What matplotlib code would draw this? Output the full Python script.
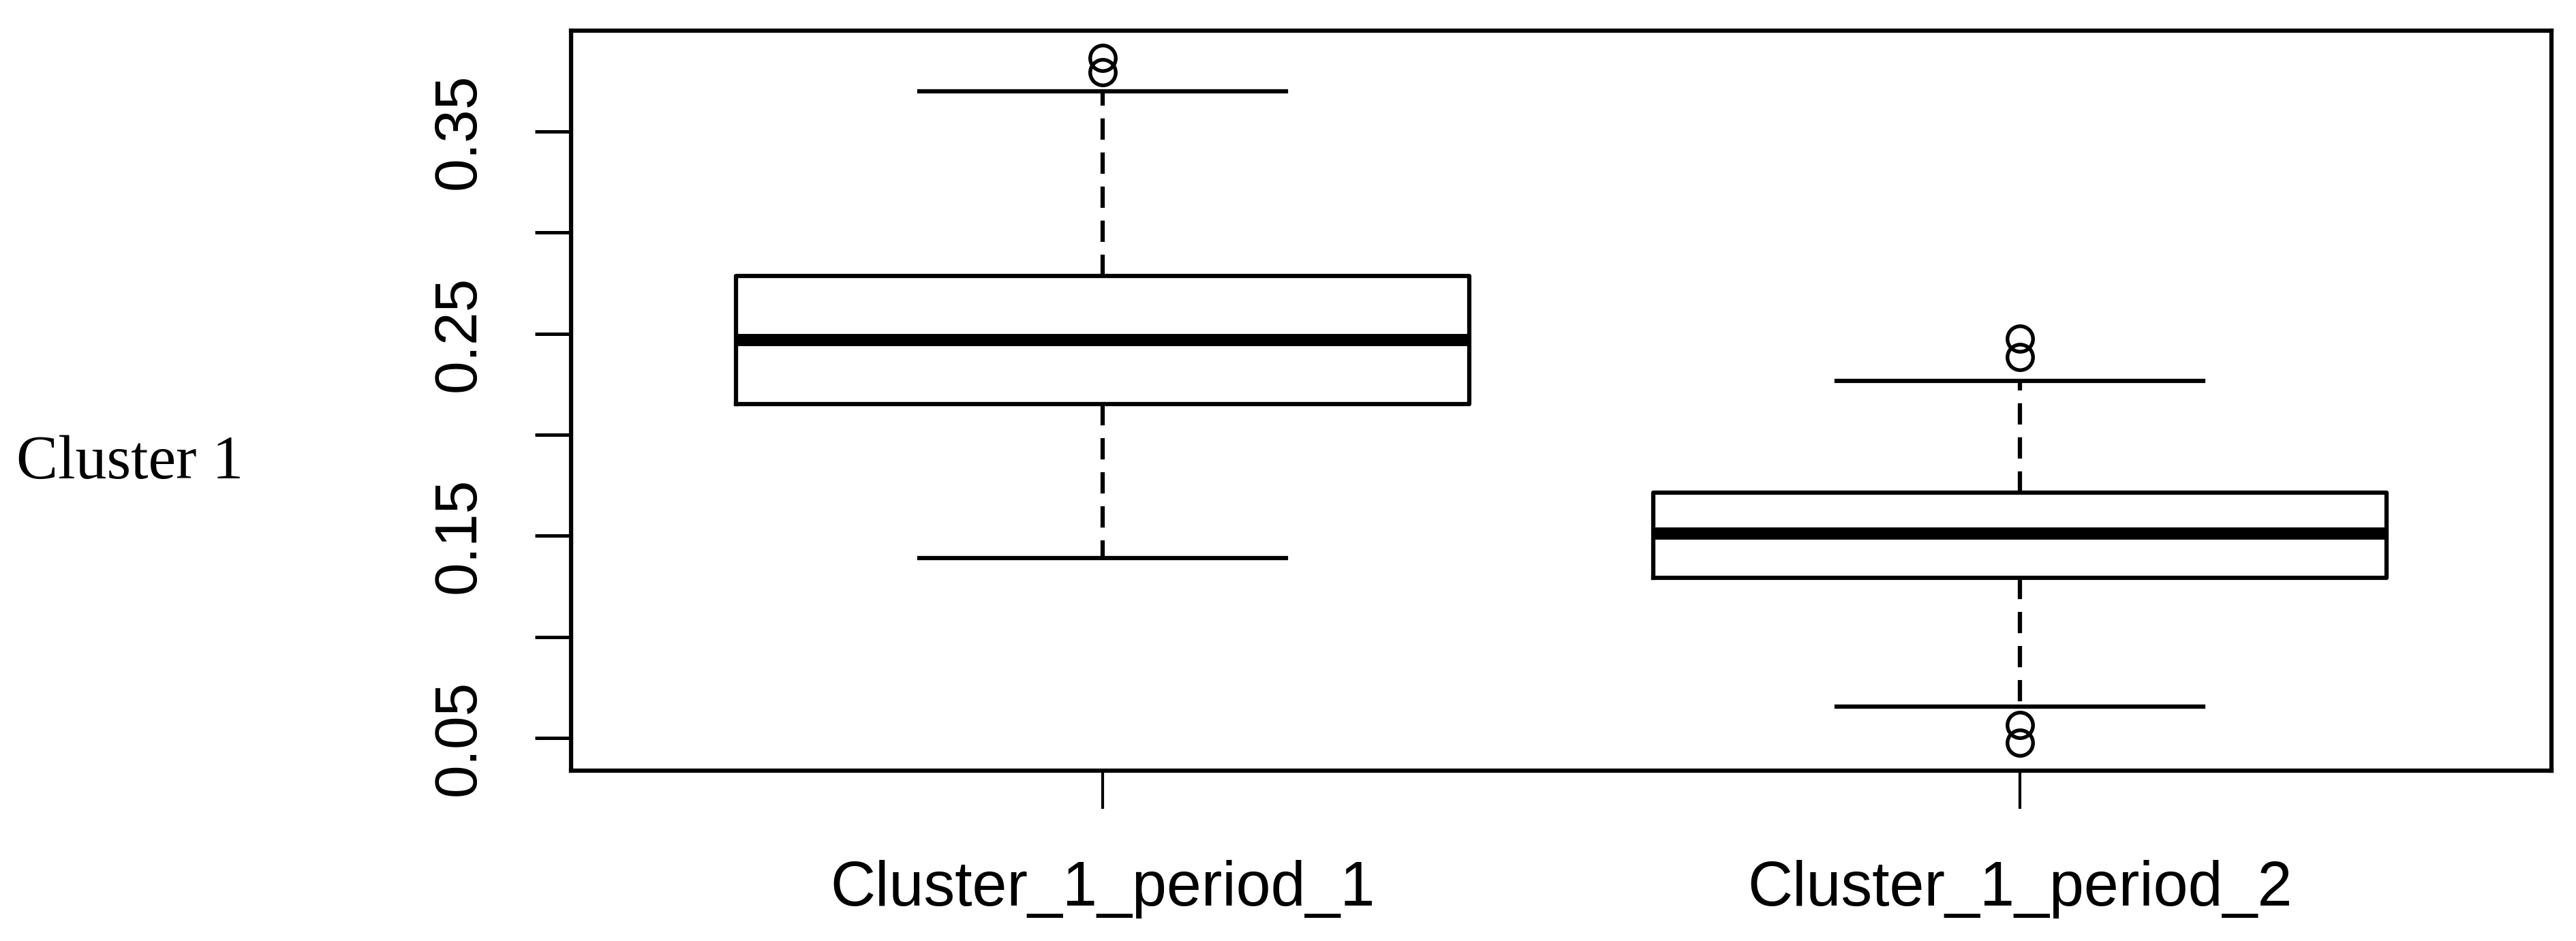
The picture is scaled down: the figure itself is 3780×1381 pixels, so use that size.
import matplotlib
matplotlib.use("Agg")
import matplotlib.pyplot as plt

# ---- data ----
categories = ["Cluster_1_period_1", "Cluster_1_period_2"]
whis_low = [0.139, 0.0656]
q1 = [0.215, 0.1293]
medians = [0.247, 0.1512]
q3 = [0.2785, 0.1714]
whis_high = [0.370, 0.2267]
outliers = [[0.3795, 0.3865], [0.2384, 0.2474, 0.0476, 0.0564]]
ytick_values = [0.05, 0.10, 0.15, 0.20, 0.25, 0.30, 0.35]
ytick_labels = ["0.05", "", "0.15", "", "0.25", "", "0.35"]
row_label = "Cluster 1"

W, H, DPI = 3780, 1381, 300
fig = plt.figure(figsize=(W / DPI, H / DPI), dpi=DPI)
fig.patch.set_facecolor("white")

left, right, top, bottom = 838 / W, 3744 / W, 1 - 45 / H, 1 - 1131 / H
ax = fig.add_axes([left, bottom, right - left, top - bottom])

stats = []
for i, name in enumerate(categories):
    stats.append(dict(label=name, whislo=whis_low[i], q1=q1[i], med=medians[i],
                      q3=q3[i], whishi=whis_high[i], fliers=outliers[i]))

lw = 1.5
ax.bxp(stats, positions=[1, 2], widths=0.8, capwidths=0.4, patch_artist=False,
       boxprops=dict(color="black", linewidth=lw),
       medianprops=dict(color="black", linewidth=4.3, solid_capstyle="butt"),
       whiskerprops=dict(color="black", linewidth=lw, linestyle=(0, (5, 3))),
       capprops=dict(color="black", linewidth=lw),
       flierprops=dict(marker="o", markerfacecolor="none", markeredgecolor="black",
                       markersize=9.0, markeredgewidth=1.3, linestyle="none"))

ax.set_xlim(0.42, 2.58)
ax.set_ylim(0.0338, 0.3999)

for sp in ax.spines.values():
    sp.set_linewidth(lw)
    sp.set_color("black")

ax.set_yticks(ytick_values)
ax.set_yticklabels(ytick_labels, rotation=90, va="center",
                   fontsize=21, family=["Liberation Sans", "DejaVu Sans"])
ax.tick_params(axis="y", length=12.7, width=1.2, pad=17, direction="out")
ax.set_xticks([1, 2])
ax.set_xticklabels(categories, fontsize=22, family=["Liberation Sans", "DejaVu Sans"])
ax.tick_params(axis="x", length=13.5, width=1.0, pad=18, direction="out")

fig.text(24 / W, 1 - 702 / H, row_label, fontsize=22,
         family=["Liberation Serif", "DejaVu Serif"], ha="left", va="baseline")

fig.savefig("out.png", dpi=DPI, facecolor="white")
